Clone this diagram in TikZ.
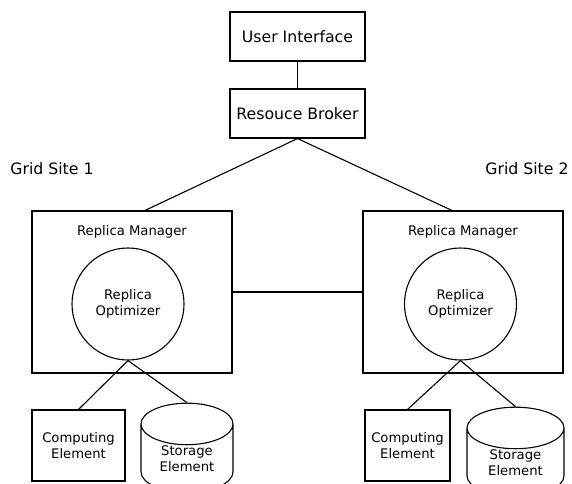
\documentclass[tikz,border=0pt]{standalone}
\usepackage{fontspec}
\setmainfont{DejaVu Sans}
\usepackage{tikz}
\usetikzlibrary{shapes.geometric}
\tikzset{
    plain-box/.style = {draw, line width=1.1pt, rectangle, fill=white},
    big-text/.style = {font=\fontsize{15.7}{18}\selectfont},
    small-text/.style = {font=\fontsize{13.2}{16.5}\selectfont, align=center},
    site-box/.style = {plain-box, minimum width=200pt, minimum height=162pt},
    optimizer/.style = {draw, line width=1.1pt, circle, minimum size=112pt, small-text},
    element-box/.style = {plain-box, minimum height=71pt, small-text, inner sep=1pt},
    storage/.style = {draw, line width=1.1pt, cylinder, shape border rotate=90, aspect=0.76, small-text, inner sep=0pt},
    link/.style = {draw, line width=1.1pt},
}

\begin{document}
\begin{tikzpicture}[x=1pt, y=-1pt]
\useasboundingbox (0,0) rectangle (572,483);
\node[plain-box, big-text, minimum width=135pt, minimum height=49pt] (ui) at (297.5,36.5) {User Interface};
\node[plain-box, big-text, minimum width=135pt, minimum height=49pt] (rb) at (297.5,113.5) {Resouce Broker};
\node[big-text] (site1) at (52,169) {Grid Site 1};
\node[big-text] (site2) at (527,169) {Grid Site 2};

% the two grid sites
\node[site-box] (rm1) at (132,292) {};
\node[site-box] (rm2) at (463,292) {};
\node[small-text, inner sep=0pt, below=15pt] (mgr1) at (rm1.north) {Replica Manager};
\node[small-text, inner sep=0pt, below=15pt] (mgr2) at (rm2.north) {Replica Manager};
\node[optimizer] (ro1) at (128,304) {Replica\\Optimizer};
\node[optimizer] (ro2) at (460.5,304) {Replica\\Optimizer};

% elements below each site (the storage drums run past the lower edge)
\node[element-box, minimum width=93pt] (ce1) at (78.5,445.5) {Computing\\Element};
\node[element-box, minimum width=85pt] (ce2) at (407.5,445.5) {Computing\\Element};
\node[storage, minimum width=92pt, minimum height=83pt] (se1) at (187,458.5) {Storage\\Element};
\node[storage, minimum width=97pt, minimum height=83pt] (se2) at (515.5,462.5) {Storage\\Element};

\path[link] (ui) -- (rb);
\path[link] (rb.south) -- ([xshift=13pt]rm1.north);
\path[link] (rb.south) -- ([xshift=-11pt]rm2.north);
\path[link] (rm1.east) -- (rm2.west);
\path[link] (ro1.south) -- (ce1.north);
\path[link] (ro1.south) -- (se1.north);
\path[link] (ro2.south) -- (ce2.north);
\path[link] (ro2.south) -- (se2.north);
\end{tikzpicture}
\end{document}
